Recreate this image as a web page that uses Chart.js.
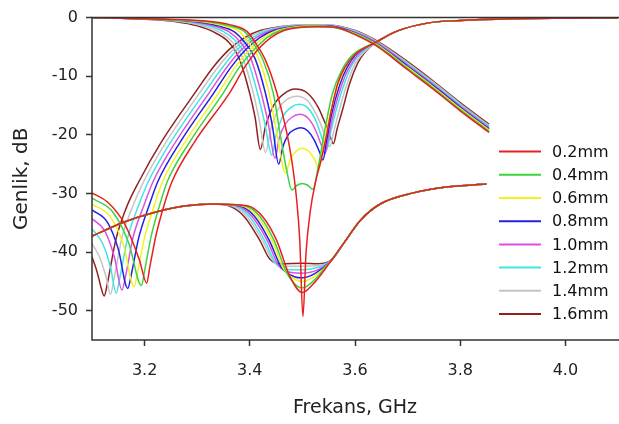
<!DOCTYPE html>
<html>
<head>
<meta charset="utf-8">
<script src="https://cdn.jsdelivr.net/npm/chart.js@4.4.1/dist/chart.umd.min.js"></script>
<style>
  html, body { margin: 0; padding: 0; background: #fff; }
</style>
</head>
<body>
<canvas id="myChart" width="619" height="424"></canvas>
<script>
/*--------DATA-----------*/
var sizes = ['0.2mm', '0.4mm', '0.6mm', '0.8mm', '1.0mm', '1.2mm', '1.4mm', '1.6mm'];
var xTicks = [3.2, 3.4, 3.6, 3.8, 4.0];
var yTicks = [0, -10, -20, -30, -40, -50];

/* upper curves [GHz, dB] */
var s11_02 = [[3.10,0],[3.20,-0.2],[3.33,-0.7],[3.37,-1.4],[3.395,-2.4],[3.41,-4.2],[3.43,-7.3],[3.452,-13],[3.47,-19.5],[3.48,-24.5],[3.489,-31],[3.495,-38],[3.501,-51],[3.507,-40],[3.515,-33],[3.525,-28],[3.535,-24.5],[3.545,-20.5],[3.555,-15.8],[3.567,-11.3],[3.58,-8.6],[3.60,-6.3],[3.64,-4.2],[3.68,-2.3],[3.74,-0.9],[3.80,-0.5],[3.90,-0.2],[4.00,-0.1],[4.10,-0.05]];
var s11_04 = [[3.10,0],[3.20,-0.2],[3.32,-0.7],[3.36,-1.4],[3.39,-2.4],[3.405,-4.2],[3.425,-7.2],[3.445,-13],[3.457,-19.5],[3.47,-26],[3.48,-29.4],[3.49,-28.6],[3.50,-28.3],[3.51,-28.6],[3.52,-29.3],[3.53,-25.5],[3.543,-19],[3.557,-13],[3.573,-9.3],[3.595,-6.4],[3.64,-4.2],[3.68,-2.3],[3.74,-0.9],[3.80,-0.5],[3.90,-0.2],[4.00,-0.1],[4.10,-0.05]];
var s11_06 = [[3.10,0],[3.20,-0.2],[3.31,-0.7],[3.35,-1.4],[3.38,-2.4],[3.397,-4.2],[3.417,-7],[3.437,-13],[3.452,-20],[3.468,-26.5],[3.477,-24.2],[3.488,-22.8],[3.50,-22.3],[3.512,-22.8],[3.523,-24.2],[3.532,-25.7],[3.539,-22.5],[3.55,-17.5],[3.565,-12.3],[3.58,-8.8],[3.60,-6.2],[3.64,-4.2],[3.68,-2.3],[3.74,-0.9],[3.80,-0.5],[3.90,-0.2],[4.00,-0.1],[4.10,-0.05]];
var s11_08 = [[3.10,0],[3.20,-0.2],[3.30,-0.7],[3.34,-1.4],[3.37,-2.4],[3.39,-4.2],[3.41,-7],[3.43,-13],[3.443,-18.5],[3.455,-25],[3.463,-22],[3.473,-20],[3.485,-19.1],[3.497,-18.8],[3.51,-19.3],[3.522,-20.8],[3.533,-23],[3.539,-24.3],[3.546,-21],[3.556,-16.3],[3.57,-11.7],[3.585,-8.5],[3.605,-6],[3.64,-4.2],[3.68,-2.3],[3.74,-0.9],[3.80,-0.5],[3.90,-0.2],[4.00,-0.1],[4.10,-0.05]];
var s11_10 = [[3.10,0],[3.20,-0.2],[3.29,-0.7],[3.33,-1.4],[3.36,-2.4],[3.382,-4.2],[3.402,-7],[3.422,-13],[3.435,-18],[3.448,-24],[3.456,-20.5],[3.467,-18.2],[3.48,-17],[3.495,-16.5],[3.51,-17.1],[3.524,-19],[3.537,-22],[3.543,-23.2],[3.55,-20.3],[3.56,-16],[3.575,-11.4],[3.59,-8.3],[3.61,-5.9],[3.64,-4.2],[3.68,-2.3],[3.74,-0.9],[3.80,-0.5],[3.90,-0.2],[4.00,-0.1],[4.10,-0.05]];
var s11_12 = [[3.10,0],[3.20,-0.2],[3.28,-0.7],[3.32,-1.4],[3.35,-2.4],[3.375,-4.2],[3.395,-7],[3.415,-13],[3.428,-17.8],[3.442,-23.5],[3.45,-20],[3.462,-17],[3.477,-15.4],[3.494,-14.8],[3.51,-15.4],[3.525,-17.5],[3.539,-21],[3.546,-22.6],[3.554,-19.5],[3.565,-15.5],[3.58,-11.2],[3.595,-8],[3.615,-5.8],[3.64,-4.2],[3.68,-2.3],[3.74,-0.9],[3.80,-0.5],[3.90,-0.2],[4.00,-0.1],[4.10,-0.05]];
var s11_14 = [[3.10,0],[3.20,-0.25],[3.27,-0.7],[3.31,-1.4],[3.34,-2.4],[3.367,-4.2],[3.387,-7],[3.407,-13],[3.418,-17.5],[3.43,-23],[3.44,-19],[3.455,-15.5],[3.47,-14],[3.489,-13.4],[3.51,-14.2],[3.53,-17.2],[3.545,-20.5],[3.552,-22],[3.56,-19.3],[3.571,-15.5],[3.585,-11.3],[3.60,-7.9],[3.62,-5.7],[3.64,-4.2],[3.68,-2.3],[3.74,-0.9],[3.80,-0.5],[3.90,-0.2],[4.00,-0.1],[4.10,-0.05]];
var s11_16 = [[3.10,0],[3.20,-0.3],[3.26,-0.7],[3.30,-1.4],[3.33,-2.4],[3.36,-4.2],[3.38,-7],[3.40,-13],[3.41,-17],[3.42,-22.5],[3.43,-18.5],[3.445,-15],[3.465,-13],[3.486,-12.2],[3.51,-12.9],[3.53,-15.3],[3.55,-19.5],[3.559,-21.5],[3.566,-19],[3.577,-15.5],[3.59,-11.2],[3.605,-7.8],[3.62,-5.8],[3.64,-4.2],[3.68,-2.3],[3.74,-0.9],[3.80,-0.5],[3.90,-0.2],[4.00,-0.1],[4.10,-0.05]];

/* passband curves [GHz, dB] */
var s21_02 = [[3.10,-29.9],[3.13,-31.5],[3.162,-35.2],[3.19,-41.3],[3.204,-45.3],[3.21,-42.5],[3.222,-37],[3.237,-32],[3.252,-28],[3.295,-21.2],[3.362,-12.8],[3.39,-8.5],[3.415,-5.5],[3.44,-3.4],[3.465,-2.2],[3.495,-1.7],[3.53,-1.55],[3.56,-1.6],[3.60,-2.9],[3.64,-4.8],[3.70,-8.9],[3.75,-12.3],[3.80,-15.9],[3.855,-19.6]];
var s21_04 = [[3.10,-30.8],[3.14,-33.2],[3.17,-38.5],[3.194,-45.7],[3.20,-43.2],[3.212,-37.5],[3.228,-32.2],[3.243,-28],[3.286,-21.2],[3.35,-12.8],[3.38,-8.5],[3.408,-5.5],[3.433,-3.4],[3.458,-2.2],[3.49,-1.65],[3.52,-1.5],[3.55,-1.55],[3.60,-2.8],[3.64,-4.6],[3.70,-8.7],[3.75,-12.1],[3.80,-15.7],[3.855,-19.4]];
var s21_06 = [[3.10,-31.8],[3.135,-34],[3.16,-38.8],[3.18,-45.9],[3.187,-43.3],[3.20,-37.5],[3.218,-32.2],[3.234,-28],[3.277,-21.2],[3.341,-12.8],[3.372,-8.5],[3.40,-5.5],[3.426,-3.4],[3.452,-2.2],[3.485,-1.6],[3.51,-1.45],[3.55,-1.5],[3.60,-2.7],[3.64,-4.5],[3.70,-8.5],[3.75,-11.9],[3.80,-15.5],[3.855,-19.2]];
var s21_08 = [[3.10,-32.8],[3.13,-35],[3.15,-39.5],[3.168,-46.2],[3.175,-43.7],[3.189,-37.5],[3.208,-32.2],[3.225,-28],[3.268,-21.2],[3.332,-12.8],[3.364,-8.5],[3.392,-5.5],[3.419,-3.4],[3.446,-2.2],[3.48,-1.6],[3.51,-1.4],[3.55,-1.45],[3.60,-2.6],[3.64,-4.4],[3.70,-8.3],[3.75,-11.7],[3.80,-15.3],[3.855,-19]];
var s21_10 = [[3.10,-34.3],[3.125,-36.5],[3.143,-41],[3.157,-46.5],[3.164,-44],[3.178,-37.5],[3.198,-32.2],[3.216,-28],[3.259,-21.2],[3.323,-12.8],[3.356,-8.5],[3.384,-5.5],[3.412,-3.4],[3.44,-2.2],[3.475,-1.55],[3.50,-1.4],[3.55,-1.4],[3.60,-2.5],[3.64,-4.2],[3.70,-8.1],[3.75,-11.5],[3.80,-15.1],[3.855,-18.8]];
var s21_12 = [[3.10,-36],[3.12,-38.5],[3.135,-42.5],[3.146,-47],[3.153,-44.3],[3.168,-37.5],[3.188,-32.2],[3.207,-28],[3.25,-21.2],[3.314,-12.8],[3.348,-8.5],[3.376,-5.5],[3.405,-3.4],[3.434,-2.2],[3.47,-1.5],[3.50,-1.35],[3.55,-1.35],[3.60,-2.4],[3.64,-4.1],[3.70,-7.9],[3.75,-11.3],[3.80,-14.9],[3.855,-18.6]];
var s21_14 = [[3.10,-38.5],[3.115,-41],[3.127,-44.3],[3.135,-47.2],[3.142,-44.5],[3.157,-37.5],[3.177,-32.3],[3.198,-28],[3.241,-21.2],[3.305,-12.8],[3.339,-8.5],[3.368,-5.5],[3.397,-3.4],[3.427,-2.2],[3.465,-1.5],[3.50,-1.3],[3.55,-1.3],[3.60,-2.3],[3.64,-4.0],[3.70,-7.7],[3.75,-11.1],[3.80,-14.7],[3.855,-18.4]];
var s21_16 = [[3.10,-40.8],[3.11,-43.5],[3.118,-46.3],[3.123,-47.5],[3.13,-45],[3.145,-38],[3.165,-32.5],[3.189,-28],[3.232,-21.2],[3.296,-12.8],[3.33,-8.5],[3.36,-5.5],[3.39,-3.4],[3.42,-2.2],[3.46,-1.5],[3.50,-1.3],[3.55,-1.3],[3.60,-2.2],[3.64,-3.9],[3.70,-7.5],[3.75,-10.9],[3.80,-14.5],[3.855,-18.2]];

/* lower curves [GHz, dB] */
var low_02 = [[3.10,-37.3],[3.16,-34.9],[3.22,-33.2],[3.28,-32.1],[3.33,-31.8],[3.395,-32.1],[3.425,-34],[3.451,-38],[3.476,-44.1],[3.50,-46.9],[3.52,-45.5],[3.54,-43.3],[3.556,-41.3],[3.58,-38.3],[3.61,-34.6],[3.648,-31.8],[3.711,-29.9],[3.774,-28.9],[3.85,-28.4]];
var low_04 = [[3.10,-37.3],[3.16,-34.9],[3.22,-33.2],[3.28,-32.1],[3.33,-31.8],[3.39,-32.1],[3.42,-34],[3.446,-38],[3.47,-43.5],[3.49,-45.8],[3.50,-46.1],[3.52,-45],[3.54,-43],[3.556,-41.3],[3.58,-38.3],[3.61,-34.6],[3.648,-31.8],[3.711,-29.9],[3.774,-28.9],[3.85,-28.4]];
var low_06 = [[3.10,-37.3],[3.16,-34.9],[3.22,-33.2],[3.28,-32.1],[3.33,-31.8],[3.385,-32.1],[3.415,-34],[3.442,-38],[3.465,-43],[3.49,-44.8],[3.50,-45],[3.525,-44],[3.556,-41.3],[3.58,-38.3],[3.61,-34.6],[3.648,-31.8],[3.711,-29.9],[3.774,-28.9],[3.85,-28.4]];
var low_08 = [[3.10,-37.3],[3.16,-34.9],[3.22,-33.2],[3.28,-32.1],[3.33,-31.8],[3.38,-32.1],[3.41,-34],[3.437,-38],[3.46,-42.6],[3.485,-44.2],[3.50,-44.4],[3.525,-43.6],[3.556,-41.3],[3.58,-38.3],[3.61,-34.6],[3.648,-31.8],[3.711,-29.9],[3.774,-28.9],[3.85,-28.4]];
var low_10 = [[3.10,-37.3],[3.16,-34.9],[3.22,-33.2],[3.28,-32.1],[3.33,-31.8],[3.375,-32.1],[3.405,-34],[3.433,-38],[3.455,-42.3],[3.48,-43.5],[3.50,-43.6],[3.53,-43],[3.556,-41.3],[3.58,-38.3],[3.61,-34.6],[3.648,-31.8],[3.711,-29.9],[3.774,-28.9],[3.85,-28.4]];
var low_12 = [[3.10,-37.3],[3.16,-34.9],[3.22,-33.2],[3.28,-32.1],[3.33,-31.8],[3.37,-32.1],[3.40,-34],[3.428,-38],[3.45,-42],[3.475,-43],[3.50,-43],[3.53,-42.6],[3.556,-41.3],[3.58,-38.3],[3.61,-34.6],[3.648,-31.8],[3.711,-29.9],[3.774,-28.9],[3.85,-28.4]];
var low_14 = [[3.10,-37.3],[3.16,-34.9],[3.22,-33.2],[3.28,-32.1],[3.33,-31.8],[3.365,-32.1],[3.395,-34],[3.424,-38],[3.444,-41.5],[3.465,-42.4],[3.50,-42.4],[3.53,-42.3],[3.556,-41.3],[3.58,-38.3],[3.61,-34.6],[3.648,-31.8],[3.711,-29.9],[3.774,-28.9],[3.85,-28.4]];
var low_16 = [[3.10,-37.3],[3.16,-34.9],[3.22,-33.2],[3.28,-32.1],[3.33,-31.8],[3.36,-32.1],[3.39,-34],[3.419,-38],[3.438,-41.2],[3.46,-42],[3.50,-41.9],[3.53,-42],[3.556,-41.3],[3.58,-38.3],[3.61,-34.6],[3.648,-31.8],[3.711,-29.9],[3.774,-28.9],[3.85,-28.4]];

var upper = [s11_02, s11_04, s11_06, s11_08, s11_10, s11_12, s11_14, s11_16];
var pass = [s21_02, s21_04, s21_06, s21_08, s21_10, s21_12, s21_14, s21_16];
var lower = [low_02, low_04, low_06, low_08, low_10, low_12, low_14, low_16];

var colors = ['#e8201e', '#3ed23e', '#f2f21e', '#2020e6', '#e050e0', '#3ee6e6', '#c4c4c4', '#8e2222'];
var FONT = 'DejaVu Sans';

function pts(arr) {
  return arr.map(function (p) { return { x: p[0], y: p[1] }; });
}

var datasets = [];
for (var i = 0; i < sizes.length; i++) {
  [upper[i], pass[i], lower[i]].forEach(function (curve, k) {
    datasets.push({
      label: k === 0 ? sizes[i] : '',
      data: pts(curve),
      borderColor: colors[i],
      borderWidth: 1.5,
      pointRadius: 0,
      fill: false,
      cubicInterpolationMode: 'monotone'
    });
  });
}

/* frame (left, top, bottom) + legend drawn on the canvas */
var framePlugin = {
  id: 'frame',
  afterDraw: function (chart) {
    var a = chart.chartArea, c = chart.ctx;
    c.save();
    c.strokeStyle = '#333';
    c.lineWidth = 1.5;
    c.beginPath();
    c.moveTo(a.right + 2, a.top);
    c.lineTo(a.left, a.top);
    c.lineTo(a.left, a.bottom);
    c.lineTo(a.right + 2, a.bottom);
    c.stroke();
    // legend
    c.font = '16px "' + FONT + '"';
    c.textBaseline = 'middle';
    c.fillStyle = '#111';
    for (var i = 0; i < sizes.length; i++) {
      var y = a.top + 134 + i * 23.2;
      c.strokeStyle = colors[i];
      c.lineWidth = 2;
      c.beginPath();
      c.moveTo(a.left + 407, y);
      c.lineTo(a.left + 449, y);
      c.stroke();
      c.fillText(sizes[i], a.left + 460, y + 1);
    }
    c.restore();
  }
};

var ctx = document.getElementById("myChart");
var myChart = new Chart(ctx, {
  type: 'line',
  data: { datasets: datasets },
  options: {
    responsive: false,
    animation: false,
    layout: { padding: { top: 13, right: 1, left: 0, bottom: 0 } },
    plugins: { legend: { display: false }, tooltip: { enabled: false } },
    scales: {
      x: {
        type: 'linear',
        min: 3.1,
        max: 4.1,
        afterBuildTicks: function (scale) {
          scale.ticks = xTicks.map(function (v) { return { value: v }; });
        },
        afterFit: function (scale) { scale.height = 84; },
        ticks: {
          padding: 15,
          color: '#222',
          font: { family: FONT, size: 16 },
          callback: function (v) { return Number(v).toFixed(1); }
        },
        grid: { drawOnChartArea: false, drawTicks: true, tickLength: 6, tickColor: '#333', tickWidth: 1.5 },
        border: { display: false },
        title: { display: true, text: 'Frekans, GHz', color: '#222', font: { family: FONT, size: 19 }, padding: { top: 0, bottom: 5 } }
      },
      y: {
        type: 'linear',
        min: -55,
        max: 0,
        afterBuildTicks: function (scale) {
          scale.ticks = yTicks.map(function (v) { return { value: v }; });
        },
        afterFit: function (scale) { scale.width = 92; },
        ticks: {
          padding: 8,
          color: '#222',
          font: { family: FONT, size: 16 },
          callback: function (v) { return String(v); }
        },
        grid: { drawOnChartArea: false, drawTicks: true, tickLength: 6, tickColor: '#333', tickWidth: 1.5 },
        border: { display: false },
        title: { display: true, text: 'Genlik, dB', color: '#222', font: { family: FONT, size: 20 }, padding: { top: 10, bottom: 0 } }
      }
    }
  },
  plugins: [framePlugin]
});
</script>
</body>
</html>
